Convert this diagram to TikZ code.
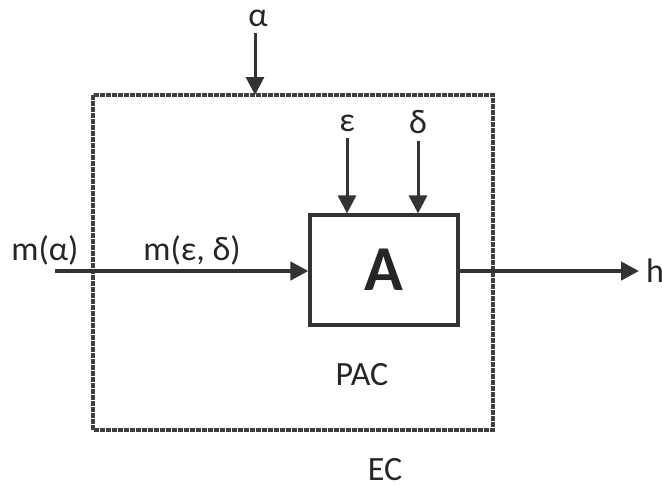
\documentclass[tikz,border=0pt]{standalone}
\usepackage{fontspec}
\setmainfont{Carlito}
\usetikzlibrary{arrows.meta}

\begin{document}
\begin{tikzpicture}[x=0.5pt, y=-0.5pt, font=\fontsize{17}{20}\selectfont, text=black!85,
  flow/.style={-{Triangle[length=9pt,width=9pt]}, line width=1.5pt, draw=black!80},
  mainflow/.style={flow, line width=2.2pt},
  block/.style={draw=black!80, line width=1.6pt, minimum width=74pt, minimum height=55pt, inner sep=0pt}]
\useasboundingbox (0,0) rectangle (662,489);

% Environment boundary
\draw[line width=1.7pt, black!75, dash pattern=on 2.4pt off 0.6pt] (93,95) coordinate (ectl) rectangle (493,430) coordinate (ecbr);
\node[inner sep=1pt] (ec) at (385,470) {EC};

% Block A
\node[block, font=\fontsize{32}{35}\selectfont\bfseries] (A) at (384,270) {A};
\node (pac) at (362,375) {PAC};

% Inputs from above
\node (alpha) at (258,18) {α};
\coordinate (ectop) at (255,95);
\draw[flow] (alpha.south -| ectop) -- (ectop);

\node (eps) at (347,123) {ε};
\node (delta) at (418,122) {δ};
\draw[flow] (eps) -- (eps |- A.north);
\draw[flow] (delta) -- (delta |- A.north);

% Main signal
\coordinate (in) at (55,271);
\node (malpha) at (45,250) {m(α)};
\node (med) at (192,250) {m(ε, δ)};
\draw[mainflow] (in) -- (in -| A.west);

% Output
\node (h) at (655,271) {h};
\draw[mainflow] (A.east |- h) -- (h);

\end{tikzpicture}
\end{document}
